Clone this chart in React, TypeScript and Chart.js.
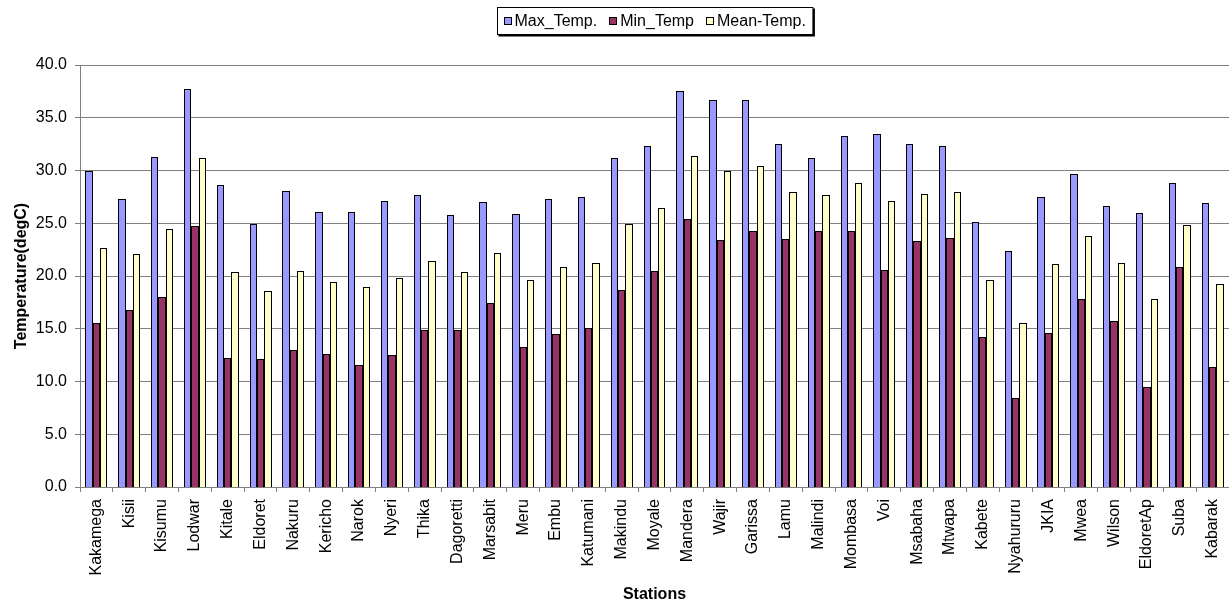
import React, { useEffect, useRef } from 'react';
import { Chart, registerables } from 'chart.js';

Chart.register(...registerables);

const stations = [
  'Kakamega', 'Kisii', 'Kisumu', 'Lodwar', 'Kitale', 'Eldoret', 'Nakuru', 'Kericho', 'Narok', 'Nyeri',
  'Thika', 'Dagoretti', 'Marsabit', 'Meru', 'Embu', 'Katumani', 'Makindu', 'Moyale', 'Mandera', 'Wajir',
  'Garissa', 'Lamu', 'Malindi', 'Mombasa', 'Voi', 'Msabaha', 'Mtwapa', 'Kabete', 'Nyahururu', 'JKIA',
  'Mwea', 'Wilson', 'EldoretAp', 'Suba', 'Kabarak',
];

const maxTemp = [
  30.0, 27.3, 31.3, 37.7, 28.6, 24.9, 28.1, 26.1, 26.1, 27.1,
  27.7, 25.8, 27.0, 25.9, 27.3, 27.5, 31.2, 32.3, 37.5, 36.7,
  36.7, 32.5, 31.2, 33.3, 33.5, 32.5, 32.3, 25.1, 22.4, 27.5,
  29.7, 26.6, 26.0, 28.8, 26.9,
];

const minTemp = [
  15.5, 16.8, 18.0, 24.7, 12.2, 12.1, 13.0, 12.6, 11.6, 12.5,
  14.9, 14.85, 17.4, 13.3, 14.5, 15.1, 18.7, 20.5, 25.4, 23.4,
  24.3, 23.5, 24.3, 24.3, 20.6, 23.3, 23.6, 14.2, 8.4, 14.6,
  17.8, 15.7, 9.5, 20.9, 11.4,
];

const meanTemp = [
  22.7, 22.1, 24.5, 31.2, 20.4, 18.6, 20.5, 19.4, 19.0, 19.8,
  21.4, 20.4, 22.2, 19.6, 20.9, 21.2, 24.9, 26.4, 31.4, 30.0,
  30.4, 28.0, 27.7, 28.8, 27.1, 27.8, 28.0, 19.6, 15.5, 21.1,
  23.8, 21.2, 17.8, 24.8, 19.2,
];

const seriesLabels = ['Max_Temp.', 'Min_Temp', 'Mean-Temp.'];
const seriesColors = ['#9999FF', '#993366', '#FFFFCC'];

const FONT = '"Liberation Sans", Arial, sans-serif';

// Snap bar edges to whole pixels so the 1px black outlines stay crisp.
const crispBarsPlugin = {
  id: 'crispBars',
  beforeDatasetsDraw(chart: any) {
    chart.data.datasets.forEach((_d: any, di: number) => {
      const meta = chart.getDatasetMeta(di);
      meta.data.forEach((el: any) => {
        const l = Math.round(el.x - el.width / 2);
        const r = Math.round(el.x + el.width / 2);
        el.x = (l + r) / 2;
        el.width = r - l;
        el.y = Math.round(el.y);
        el.base = Math.round(el.base);
      });
    });
  },
};

const boxLegendPlugin = {
  id: 'boxLegend',
  afterDraw(chart: any) {
    const ctx = chart.ctx as CanvasRenderingContext2D;
    const area = chart.chartArea;
    ctx.save();
    ctx.font = `16px ${FONT}`;
    const sw = 8;
    const gapText = 3;
    const gapItem = 12;
    const padL = 6;
    const padR = 7;
    const items = chart.data.datasets.map((d: any) => ({ label: d.label, color: d.backgroundColor }));
    const widths = items.map((it: any) => sw + gapText + ctx.measureText(it.label).width);
    const total = widths.reduce((a: number, b: number) => a + b, 0) + gapItem * (items.length - 1) + padL + padR;
    const cx = (area.left + area.right) / 2;
    const x0 = Math.round(cx - total / 2) + 0.5;
    const y0 = 7.5;
    const h = 27;
    ctx.fillStyle = '#000';
    ctx.fillRect(x0 + 1, y0 + 1, total + 1, h + 1);
    ctx.fillStyle = '#fff';
    ctx.fillRect(x0, y0, total, h);
    ctx.strokeStyle = '#000';
    ctx.lineWidth = 1;
    ctx.strokeRect(x0, y0, total, h);
    let x = x0 + padL;
    const cy = y0 + h / 2;
    items.forEach((it: any, i: number) => {
      ctx.fillStyle = it.color;
      ctx.fillRect(Math.round(x), Math.round(cy - sw / 2), sw, sw);
      ctx.strokeStyle = '#000';
      ctx.strokeRect(Math.round(x) + 0.5, Math.round(cy - sw / 2) + 0.5, sw - 1, sw - 1);
      ctx.fillStyle = '#000';
      ctx.textBaseline = 'middle';
      ctx.textAlign = 'left';
      ctx.fillText(it.label, x + sw + gapText, cy + 0.5);
      x += widths[i] + gapItem;
    });
    ctx.restore();
  },
};

export default function App() {
  const canvasRef = useRef<HTMLCanvasElement | null>(null);

  useEffect(() => {
    if (!canvasRef.current) return;
    const data = [maxTemp, minTemp, meanTemp];
    const chart = new Chart(canvasRef.current, {
      type: 'bar',
      data: {
        labels: stations,
        datasets: data.map((vals, i) => ({
          label: seriesLabels[i],
          data: vals,
          backgroundColor: seriesColors[i],
          borderColor: '#000000',
          borderWidth: 1,
          inflateAmount: 0,
          barPercentage: 1.0,
          categoryPercentage: 0.667,
        })),
      },
      options: {
        responsive: false,
        animation: false,
        devicePixelRatio: 1,
        layout: { padding: { top: 65, right: 0, left: 0, bottom: 0 } },
        plugins: {
          legend: { display: false },
          tooltip: { enabled: false },
        },
        scales: {
          x: {
            grid: {
              display: true,
              offset: true,
              drawOnChartArea: false,
              drawTicks: true,
              tickLength: 5,
              color: '#808080',
            },
            border: { display: true, color: '#808080', width: 1 },
            ticks: {
              autoSkip: false,
              maxRotation: 90,
              minRotation: 90,
              padding: 7,
              color: '#000',
              font: { family: FONT, size: 16 },
            },
            title: {
              display: true,
              text: 'Stations',
              color: '#000',
              font: { family: FONT, size: 16, weight: 'bold' },
              padding: { top: 3, bottom: 3 },
            },
            afterFit: (scale: any) => {
              scale.height = 120;
              scale.paddingLeft = 0;
              scale.paddingRight = 0;
            },
          },
          y: {
            min: 0,
            max: 40,
            grid: {
              color: '#808080',
              drawTicks: true,
              tickLength: 5,
              lineWidth: 1,
            },
            border: { display: true, color: '#808080', width: 1 },
            ticks: {
              stepSize: 5,
              padding: 8,
              color: '#000',
              font: { family: FONT, size: 16 },
              callback: (v: any) => Number(v).toFixed(1),
            },
            title: {
              display: true,
              text: 'Temperature(degC)',
              color: '#000',
              font: { family: FONT, size: 16, weight: 'bold' },
              padding: { top: 12, bottom: 4 },
            },
            afterFit: (scale: any) => {
              scale.width = 80;
            },
          },
        },
      },
      plugins: [crispBarsPlugin, boxLegendPlugin],
    });
    return () => chart.destroy();
  }, []);

  return (
    <div style={{ position: 'fixed', left: 0, top: 0, width: 1229, height: 607, background: '#fff' }}>
      <canvas ref={canvasRef} width={1229} height={607} style={{ display: 'block', width: 1229, height: 607 }} />
    </div>
  );
}
